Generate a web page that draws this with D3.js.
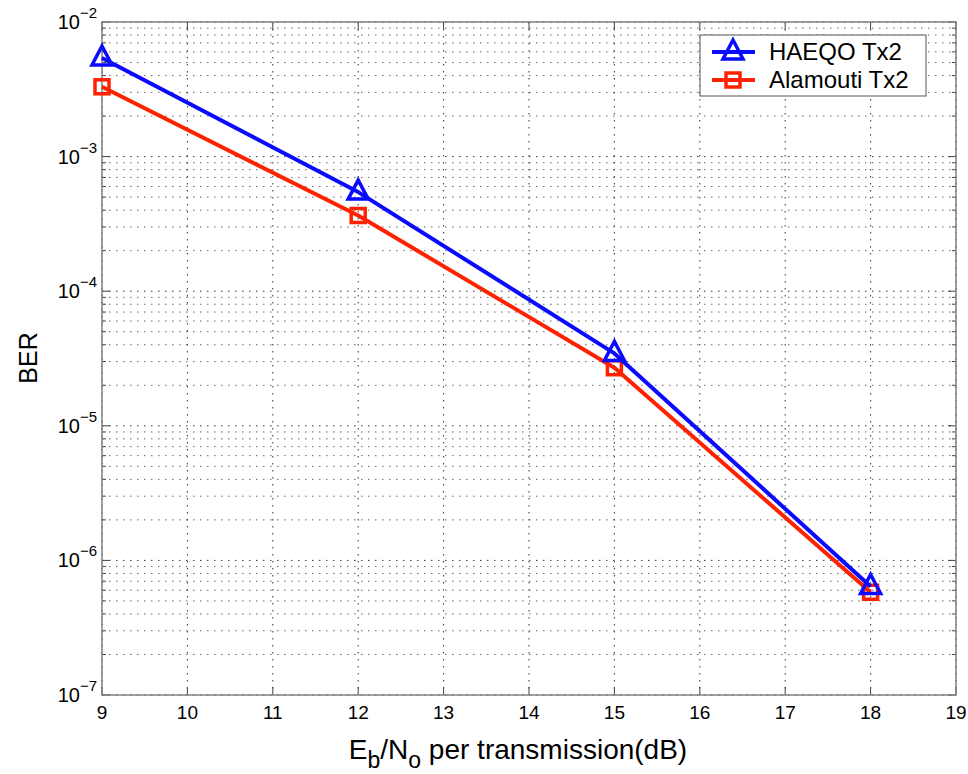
<!DOCTYPE html>
<html>
<head>
<meta charset="utf-8">
<script src="https://cdn.jsdelivr.net/npm/d3@7"></script>
<style>
  body { margin: 0; background: #fff; }
  text { font-family: "Liberation Sans", Arial, sans-serif; fill: #000; }
</style>
</head>
<body>
<svg width="968" height="774"></svg>
<script>
const snr = [9, 12, 15, 18]
const haeqo = [5.4e-3, 5.45e-4, 3.45e-5, 6.4e-7]
const alamouti = [3.3e-3, 3.65e-4, 2.7e-5, 5.8e-7]
const xTicks = [9, 10, 11, 12, 13, 14, 15, 16, 17, 18, 19]
const yExps = [-7, -6, -5, -4, -3, -2]

const svg = d3.select("svg")
const pLeft = 102, pRight = 956, pTop = 22, pBottom = 695

const x = d3.scaleLinear().domain([9, 19]).range([pLeft, pRight])
const y = d3.scaleLog().domain([1e-7, 1e-2]).range([pBottom, pTop])

const g = svg.append("g")

// grid: minor y lines
let minor = []
for (let e = -7; e < -2; e++) {
    for (let m = 2; m <= 9; m++) minor.push(m * Math.pow(10, e))
}
g.selectAll(".ymin").data(minor).enter().append("line")
    .attr("x1", pLeft).attr("x2", pRight)
    .attr("y1", d => y(d)).attr("y2", d => y(d))
    .attr("stroke", "#666").attr("stroke-width", 1)
    .attr("stroke-dasharray", "1.5,5.5")

g.selectAll(".ymaj").data(yExps).enter().append("line")
    .attr("x1", pLeft).attr("x2", pRight)
    .attr("y1", d => y(Math.pow(10, d))).attr("y2", d => y(Math.pow(10, d)))
    .attr("stroke", "#333").attr("stroke-width", 1)
    .attr("stroke-dasharray", "1.5,5.5")

g.selectAll(".xmaj").data(xTicks).enter().append("line")
    .attr("x1", d => x(d)).attr("x2", d => x(d))
    .attr("y1", pTop).attr("y2", pBottom)
    .attr("stroke", "#333").attr("stroke-width", 1)
    .attr("stroke-dasharray", "1.5,5.5")

// ticks inside
const tl = 8
g.selectAll(".xt").data(xTicks).enter().append("path")
    .attr("d", d => `M${x(d)},${pBottom}v${-tl}M${x(d)},${pTop}v${tl}`)
    .attr("stroke", "#444")
g.selectAll(".yt").data(yExps).enter().append("path")
    .attr("d", d => `M${pLeft},${y(Math.pow(10, d))}h${tl}M${pRight},${y(Math.pow(10, d))}h${-tl}`)
    .attr("stroke", "#444")
g.selectAll(".ytm").data(minor).enter().append("path")
    .attr("d", d => `M${pLeft},${y(d)}h4M${pRight},${y(d)}h-4`)
    .attr("stroke", "#444")

// box
g.append("rect").attr("x", pLeft).attr("y", pTop)
    .attr("width", pRight - pLeft).attr("height", pBottom - pTop)
    .attr("fill", "none").attr("stroke", "#808080").attr("stroke-width", 1.5)

// tick labels
g.selectAll(".xl").data(xTicks).enter().append("text")
    .attr("x", d => x(d)).attr("y", pBottom + 24)
    .attr("text-anchor", "middle").attr("font-size", 19)
    .text(d => d)

const yl = g.selectAll(".yl").data(yExps).enter().append("text")
    .attr("x", 97).attr("y", d => y(Math.pow(10, d)) + 7)
    .attr("text-anchor", "end").attr("font-size", 20)
yl.append("tspan").text("10")
yl.append("tspan").attr("dy", -11).attr("font-size", 15).text(d => "\u2212" + (-d))

// axis labels
const xl = svg.append("text").attr("x", 518).attr("y", 759)
    .attr("text-anchor", "middle").attr("font-size", 28)
xl.append("tspan").text("E")
xl.append("tspan").attr("dy", 9).attr("font-size", 23).text("b")
xl.append("tspan").attr("dy", -9).text("/N")
xl.append("tspan").attr("dy", 9).attr("font-size", 23).text("o")
xl.append("tspan").attr("dy", -9).text(" per transmission(dB)")

svg.append("text").attr("transform", "translate(37,358) rotate(-90)")
    .attr("text-anchor", "middle").attr("font-size", 25).text("BER")

// series
const series = [
    { name: "HAEQO Tx2", vals: haeqo, color: "#0a0aff", marker: "tri" },
    { name: "Alamouti Tx2", vals: alamouti, color: "#ff2200", marker: "sq" }
]
const line = d3.line().x((d, i) => x(snr[i])).y(d => y(d))

function drawMarker(sel, type, color) {
    if (type === "tri") {
        sel.append("path").attr("d", "M0,-12L10,7L-10,7Z")
            .attr("fill", "none").attr("stroke", color).attr("stroke-width", 3.5)
    } else {
        sel.append("rect").attr("x", -7).attr("y", -7).attr("width", 14).attr("height", 14)
            .attr("fill", "none").attr("stroke", color).attr("stroke-width", 3.5)
    }
}

// blue drawn last so it sits on top
series.slice().reverse().forEach(s => {
    svg.append("path").datum(s.vals).attr("d", line)
        .attr("fill", "none").attr("stroke", s.color).attr("stroke-width", 4)
        .attr("stroke-linejoin", "round")
    s.vals.forEach((v, i) => {
        const m = svg.append("g").attr("transform", `translate(${x(snr[i])},${y(v)})`)
        drawMarker(m, s.marker, s.color)
    })
})

// legend
const lg = svg.append("g").attr("transform", "translate(700,35)")
lg.append("rect").attr("width", 226).attr("height", 61)
    .attr("fill", "#fff").attr("stroke", "#555").attr("stroke-width", 1)
series.forEach((s, i) => {
    const yy = 17 + i * 28
    lg.append("line").attr("x1", 12).attr("x2", 55).attr("y1", yy).attr("y2", yy)
        .attr("stroke", s.color).attr("stroke-width", 4)
    drawMarker(lg.append("g").attr("transform", `translate(33,${yy})`), s.marker, s.color)
    lg.append("text").attr("x", 69).attr("y", yy + 8).attr("font-size", 24).text(s.name)
})
</script>
</body>
</html>
